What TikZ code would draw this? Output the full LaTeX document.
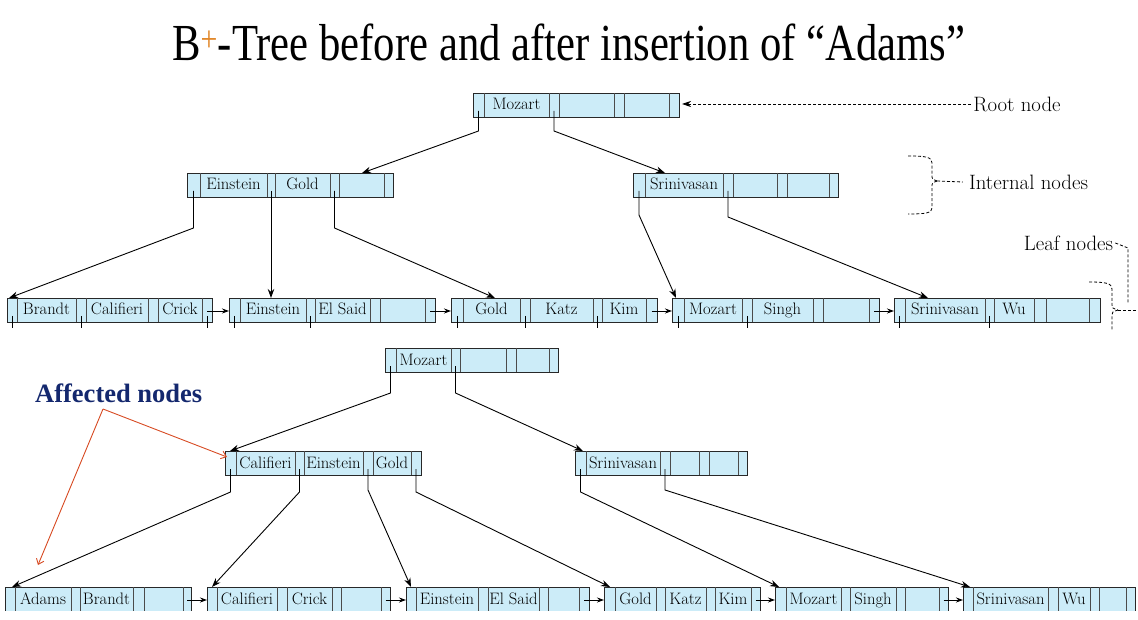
\documentclass[tikz,border=0pt]{standalone}
\usepackage{fontspec}
\usepackage{graphicx}
\newfontfamily\titlefont{Liberation Serif}
\usetikzlibrary{arrows.meta,calc}
\definecolor{recfill}{RGB}{204,236,248}
\definecolor{recline}{RGB}{40,40,40}
\definecolor{divcol}{RGB}{75,75,75}
\definecolor{affblue}{RGB}{20,40,110}
\definecolor{affred}{RGB}{215,75,35}
\definecolor{plusorange}{RGB}{225,135,40}
\def\recparse#1,#2,#3,#4,#5,#6,#7,#8\relax{\def\xA{#1}\def\xB{#2}\def\xC{#3}\def\xD{#4}\def\xE{#5}\def\xF{#6}\def\xG{#7}\def\xH{#8}}
% #1 name, #2 top y, #3 eight x boundaries, #4-#6 keys
\newcommand\rec[6]{%
  \recparse#3\relax
  \node[recbox, minimum width={(\xH-\xA)*1pt}, anchor=north west] (#1) at (\xA,#2) {};
  \foreach \xx in {\xB,\xC,\xD,\xE,\xF,\xG} \draw[recdiv] (\xx,#2) -- (\xx,#2+24);
  \node[keytext] (#1k0) at ({(\xB+\xC)/2},#2+17) {#4};
  \node[keytext] (#1k1) at ({(\xD+\xE)/2},#2+17) {#5};
  \node[keytext] (#1k2) at ({(\xF+\xG)/2},#2+17) {#6};
  \coordinate (#1p0) at ({(\xA+\xB)/2},#2+18);
  \coordinate (#1p1) at ({(\xC+\xD)/2},#2+18);
  \coordinate (#1p2) at ({(\xE+\xF)/2},#2+18);
  \coordinate (#1p3) at ({(\xG+\xH)/2},#2+18);
  \coordinate (#1q) at ({(\xG+\xH)/2},#2+13);
}
\begin{document}
\begin{tikzpicture}[x=1pt,y=-1pt,
  recbox/.style={draw=recline, fill=recfill, line width=0.95pt, minimum height=24pt, inner sep=0pt, outer sep=0pt},
  recdiv/.style={draw=divcol, line width=0.85pt},
  keytext/.style={anchor=base, inner sep=0pt, font=\fontsize{16.6}{17}\selectfont},
  ptrarrow/.style={draw=black, line width=0.9pt, -{Stealth[length=9pt,width=6.5pt]}},
  tickln/.style={draw=black, line width=0.9pt},
  leaflink/.style={draw=black, line width=0.9pt, -{Stealth[length=7pt,width=5pt]}},
  labtext/.style={font=\fontsize{20.8}{21}\selectfont, inner sep=2pt},
  dashln/.style={draw=black, line width=0.8pt, dash pattern=on 3pt off 2pt},
  redarrow/.style={draw=affred, line width=0.9pt, -{Straight Barb[length=5pt,width=8pt]}}
]
\useasboundingbox (0,0) rectangle (1138,620);
\begin{scope}
\clip (-5,-5) rectangle (1143,610.5);

% title
\node[anchor=base west, inner sep=0pt] (title) at (172,61)
  {\resizebox{793pt}{\height}{\titlefont\fontsize{52}{52}\selectfont B\textsuperscript{\color{plusorange}+}-Tree before and after insertion of “Adams”}};

% ---------- tree before ----------
\rec{r1}{93}{473,484,549,559,614,624,669,679}{Mozart}{}{}
\rec{i1a}{173}{187,200,267,275,330,339,384,393}{Einstein}{Gold}{}
\rec{i1b}{173}{633,645,723,733,777,787,829,838}{Srinivasan}{}{}
\rec{l1a}{298}{7,17,76,86,148,158,202,212}{Brandt}{Califieri}{Crick}
\rec{l1b}{298}{229,240,306,315,370,380,425,435}{Einstein}{El Said}{}
\rec{l1c}{298}{451,463,520,530,593,602,646,657}{Gold}{Katz}{Kim}
\rec{l1d}{298}{672,684,742,752,813,823,869,879}{Mozart}{Singh}{}
\rec{l1e}{298}{894,905,985,994,1034,1046,1089,1100}{Srinivasan}{Wu}{}

\draw[ptrarrow] (r1p0) -- ++(0,20) -- ([xshift=175pt]i1a.north west);
\draw[ptrarrow] (r1p1) -- ++(0,20) -- ([xshift=32pt]i1b.north west);
\draw[ptrarrow] (i1ap0) -- ++(0,37) -- ([xshift=2pt]l1a.north west);
\draw[ptrarrow] (i1ap1) -- (i1ap1 |- l1b.north);
\draw[ptrarrow] (i1ap2) -- ++(0,37) -- ([xshift=44pt]l1c.north west);
\draw[ptrarrow] (i1bp0) -- ++(0,24) -- ([xshift=4pt]l1d.north west);
\draw[ptrarrow] (i1bp1) -- ++(0,26) -- ([xshift=34pt]l1e.north west);

\foreach \pp in {l1ap0,l1ap1,l1ap3,l1bp0,l1bp1,l1cp0,l1cp1,l1cp2,l1dp0,l1dp1,l1ep0,l1ep1}
  \draw[tickln] (\pp) -- ++(0,12);

\draw[leaflink] (l1aq) -- (l1aq -| l1b.west);
\draw[leaflink] (l1bq) -- (l1bq -| l1c.west);
\draw[leaflink] (l1cq) -- (l1cq -| l1d.west);
\draw[leaflink] (l1dq) -- (l1dq -| l1e.west);

% labels
\node[labtext] (rootlab) at (1017,104) {Root node};
\draw[dashln, -{Stealth[length=9pt,width=6pt]}] (rootlab.west) -- ($(rootlab.west -| r1.east)+(3,0)$);

\node[labtext] (intlab) at (1028.5,182) {Internal nodes};
\draw[dashln] (908,156) .. controls (926,156) and (932,157) .. (932,163) -- (932,175) .. controls (932,179) .. (937,181);
\draw[dashln] (937,181) .. controls (932,183) .. (932,187) -- (932,208) .. controls (932,213) and (926,214) .. (908,214);
\draw[dashln] (937,181) -- ([xshift=-4pt]intlab.west);

\node[labtext] (leaflab) at (1068.5,243) {Leaf nodes};
\draw[dashln] (1089,282) .. controls (1105,282) and (1112,283) .. (1112,289) -- (1112,305) .. controls (1112,308) .. (1118,310);
\draw[dashln] (1118,310) .. controls (1112,312) .. (1112,315) -- (1112,330);
\draw[dashln] (1118,310) -- (1138,310);
\draw[dashln] (leaflab.east) -- (1128,248) -- (1128,304);

% ---------- tree after ----------
\rec{r2}{348}{385,396,451,460,506,516,549,558}{Mozart}{}{}
\rec{i2a}{451}{225,236,295,304,363,373,411,421}{Califieri}{Einstein}{Gold}
\rec{i2b}{451}{575,586,660,670,699,709,738,747}{Srinivasan}{}{}
\rec{l2a}{587}{5,15,71,80,133,144,183,191}{Adams}{Brandt}{}
\rec{l2b}{587}{207,217,277,287,332,341,381,390}{Califieri}{Crick}{}
\rec{l2c}{587}{406,416,478,488,539,548,579,589}{Einstein}{El Said}{}
\rec{l2d}{587}{604,615,656,665,706,715,751,760}{Gold}{Katz}{Kim}
\rec{l2e}{587}{775,786,841,850,896,905,939,948}{Mozart}{Singh}{}
\rec{l2f}{587}{963,973,1048,1058,1090,1099,1126,1135}{Srinivasan}{Wu}{}

\draw[ptrarrow] (r2p0) -- ++(0,27) -- ([xshift=5pt]i2a.north west);
\draw[ptrarrow] (r2p1) -- ++(0,27) -- ([xshift=8pt]i2b.north west);
\draw[ptrarrow] (i2ap0) -- ++(0,23) -- ([xshift=7pt]l2a.north west);
\draw[ptrarrow] (i2ap1) -- ++(0,23) -- ([xshift=5pt]l2b.north west);
\draw[ptrarrow] (i2ap2) -- ++(0,21) -- ([xshift=5pt]l2c.north west);
\draw[ptrarrow] (i2ap3) -- ++(0,23) -- ([xshift=6pt]l2d.north west);
\draw[ptrarrow] (i2bp0) -- ++(0,23) -- ([xshift=4pt]l2e.north west);
\draw[ptrarrow] (i2bp1) -- ++(0,21) -- ([xshift=7pt]l2f.north west);

\draw[leaflink] (l2aq) -- (l2aq -| l2b.west);
\draw[leaflink] (l2bq) -- (l2bq -| l2c.west);
\draw[leaflink] (l2cq) -- (l2cq -| l2d.west);
\draw[leaflink] (l2dq) -- (l2dq -| l2e.west);
\draw[leaflink] (l2eq) -- (l2eq -| l2f.west);

% affected nodes
\node[anchor=base west, inner sep=0pt, text=affblue, font=\titlefont\bfseries\fontsize{26.5}{30}\selectfont] (aff) at (35,402) {Affected nodes};
\coordinate (apex) at (103,409);
\coordinate (redtip) at (38,565);
\draw[redarrow] (apex) -- ([xshift=2pt,yshift=-6pt]i2a.north west);
\draw[redarrow] (apex) -- (redtip);
\end{scope}
\end{tikzpicture}
\end{document}
